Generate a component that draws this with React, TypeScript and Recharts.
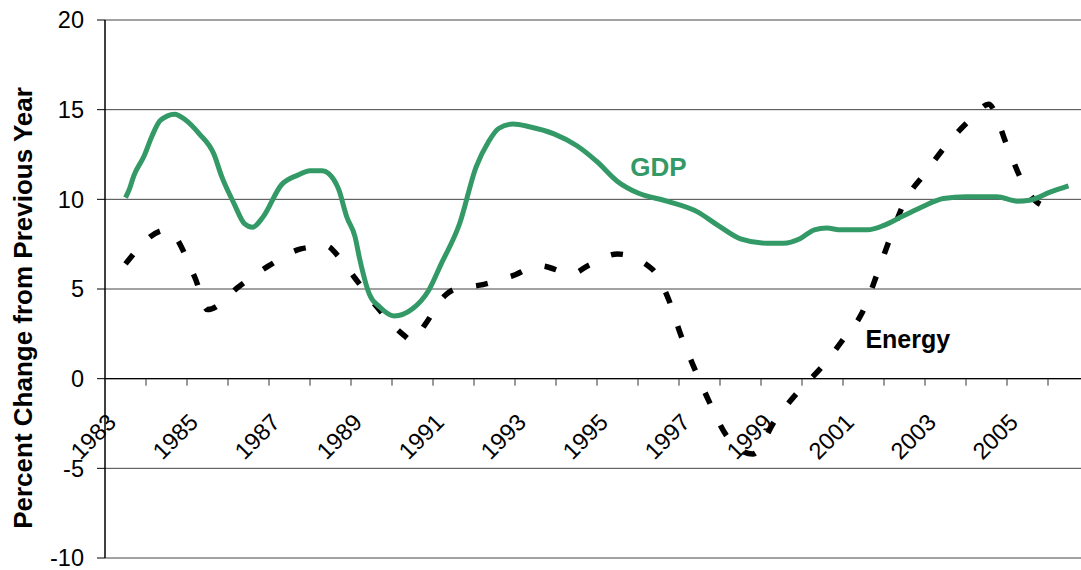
import React from "react"
import { LineChart, Line, XAxis, YAxis, CartesianGrid, ReferenceLine, ReferenceDot, Label } from "recharts"

// GDP growth (year position inside the category, percent)
const gdpYears = [
  1983.0, 1983.1, 1983.2, 1983.45, 1983.65, 1983.85, 1984.2, 1984.45, 1984.8, 1985.15,
  1985.35, 1985.65, 1985.9, 1986.1, 1986.35, 1986.8, 1987.2, 1987.5, 1987.8, 1987.95,
  1988.2, 1988.4, 1988.6, 1988.7, 1988.95, 1989.2, 1989.55, 1990.0, 1990.4, 1990.7,
  1991.15, 1991.55, 1991.85, 1992.1, 1992.45, 1992.85, 1993.45, 1994.0, 1994.5, 1995.0,
  1995.5, 1996.2, 1996.95, 1997.45, 1998.0, 1998.65, 1999.05, 1999.45, 1999.8, 2000.1,
  2000.45, 2001.1, 2001.5, 2001.95, 2002.45, 2002.95, 2003.5, 2004.25, 2004.75, 2005.05,
  2005.55, 2006.0,
]
const gdpValues = [
  10.1, 10.6, 11.3, 12.4, 13.55, 14.4, 14.75, 14.45, 13.65, 12.55,
  11.25, 9.75, 8.65, 8.45, 9.0, 10.8, 11.35, 11.6, 11.6, 11.45,
  10.55, 9.0, 7.9, 6.8, 4.7, 4.0, 3.5, 3.9, 4.95, 6.4,
  8.65, 11.8, 13.2, 13.95, 14.2, 14.05, 13.65, 13.0, 12.1, 11.0,
  10.35, 9.9, 9.3, 8.55, 7.8, 7.55, 7.55, 7.8, 8.3, 8.4,
  8.3, 8.3, 8.55, 9.05, 9.6, 10.05, 10.15, 10.15, 9.9, 9.95,
  10.4, 10.75,
]

// Energy
const energyYears = [
  1983.0, 1984.0, 1984.7, 1985.0, 1985.8, 1986.5, 1987.3, 1987.9, 1988.2, 1988.6,
  1989.15, 1989.75, 1990.0, 1990.3, 1990.8, 1991.1, 1991.6, 1992.4, 1993.1, 1993.9,
  1994.3, 1995.0, 1995.85, 1996.25, 1996.55, 1996.9, 1997.25, 1997.65, 1998.3, 1998.85,
  1999.4, 2000.0, 2000.55, 2000.95, 2001.35, 2001.65, 2002.0, 2002.5, 2003.05, 2003.65,
  2004.05, 2004.5, 2004.85, 2005.2, 2005.55,
]
const energyValues = [
  6.4, 8.3, 5.6, 3.85, 5.2, 6.3, 7.25, 7.4, 6.8, 5.6,
  3.95, 2.5, 2.1, 3.0, 4.65, 5.05, 5.2, 5.7, 6.3, 5.85,
  6.33, 6.95, 6.1, 4.4, 2.4, 0.45, -1.35, -3.15, -4.2, -2.3,
  -0.75, 0.7, 2.33, 3.6, 5.95, 7.85, 9.85, 11.45, 13.1, 14.55,
  15.3, 13.0, 11.1, 9.9, 9.55,
]

const categoryYears = Array.from({ length: 24 }, (_, i) => 1983 + i)
const labelYears = [1983, 1985, 1987, 1989, 1991, 1993, 1995, 1997, 1999, 2001, 2003, 2005]
const yTicks = [-10, -5, 0, 5, 10, 15, 20]

const seriesLabels = [
  { name: "GDP", year: 1996.0, value: 11.8, color: "#339966", size: 26 },
  { name: "Energy", year: 2002.08, value: 2.2, color: "#000000", size: 25 },
]

const FONT = '"Liberation Sans", Arial, sans-serif'
const GREEN = "#339966"

const CHART_W = 1100
const CHART_H = 570
const X_AXIS_H = 12
const MARGIN = { top: 20, right: 11, bottom: 0, left: 0 }
const Y_MIN = -10
const Y_MAX = 20
const PLOT_H = CHART_H - MARGIN.top - MARGIN.bottom - X_AXIS_H
// the category axis crosses the value axis at 0
const ZERO_Y = MARGIN.top + (PLOT_H * Y_MAX) / (Y_MAX - Y_MIN)

const gdpData = gdpYears.map((year, i) => ({ year, value: gdpValues[i] }))
const energyData = energyYears.map((year, i) => ({ year, value: energyValues[i] }))

// tick marks sit between categories, labels on the odd years
const xTicks = [...categoryYears.slice(1).map((y) => y - 0.5), ...labelYears].sort((a, b) => a - b)

function XTick({ x, payload }: any) {
  const v = payload.value
  if (!Number.isInteger(v)) {
    return <line x1={x} x2={x} y1={ZERO_Y} y2={ZERO_Y + 7} stroke="#333" strokeWidth={1} />
  }
  const ax = x - 8
  const ay = ZERO_Y + 45
  return (
    <text
      x={ax}
      y={ay}
      transform={`rotate(-45 ${ax} ${ay})`}
      textAnchor="end"
      fontSize={23.5}
      fontFamily={FONT}
      fill="#000"
    >
      {v}
    </text>
  )
}

function YTitle({ viewBox }: any) {
  const tx = viewBox.x + 32
  const ty = viewBox.y + viewBox.height / 2 + 19
  return (
    <text
      x={tx}
      y={ty}
      transform={`rotate(-90 ${tx} ${ty})`}
      textAnchor="middle"
      fontSize={26}
      fontWeight="bold"
      fontFamily={FONT}
      fill="#000"
    >
      Percent Change from Previous Year
    </text>
  )
}

export default function App() {
  return (
    <div style={{ width: CHART_W, height: CHART_H }}>
      <style>{"html,body{margin:0;overflow:hidden;background:#fff}"}</style>
      <LineChart width={CHART_W} height={CHART_H} margin={MARGIN}>
        <CartesianGrid vertical={false} stroke="#444" strokeWidth={1} />
        <XAxis
          type="number"
          dataKey="year"
          domain={[1982.5, 2006.5]}
          ticks={xTicks}
          interval={0}
          allowDataOverflow
          height={X_AXIS_H}
          axisLine={false}
          tickLine={false}
          tick={(props: any) => <XTick {...props} />}
        />
        <YAxis
          type="number"
          domain={[Y_MIN, Y_MAX]}
          ticks={yTicks}
          interval={0}
          width={105}
          tickSize={8}
          tickMargin={13}
          axisLine={{ stroke: "#000", strokeWidth: 1.5 }}
          tickLine={{ stroke: "#000" }}
          tick={{ fontSize: 23.5, fill: "#000", fontFamily: FONT }}
        >
          <Label content={<YTitle />} />
        </YAxis>
        <ReferenceLine y={0} stroke="#000" strokeWidth={1.3} />
        <Line
          data={energyData}
          dataKey="value"
          type="monotone"
          stroke="#000"
          strokeWidth={5.5}
          strokeDasharray="12 24"
          dot={false}
          activeDot={false}
          isAnimationActive={false}
        />
        <Line
          data={gdpData}
          dataKey="value"
          type="monotone"
          stroke={GREEN}
          strokeWidth={5}
          strokeLinejoin="round"
          dot={false}
          activeDot={false}
          isAnimationActive={false}
        />
        {seriesLabels.map((s) => (
          <ReferenceDot
            key={s.name}
            x={s.year}
            y={s.value}
            r={0}
            fill="none"
            stroke="none"
            label={{
              value: s.name,
              position: "center",
              fill: s.color,
              fontSize: s.size,
              fontWeight: "bold",
              fontFamily: FONT,
            }}
          />
        ))}
      </LineChart>
    </div>
  )
}
